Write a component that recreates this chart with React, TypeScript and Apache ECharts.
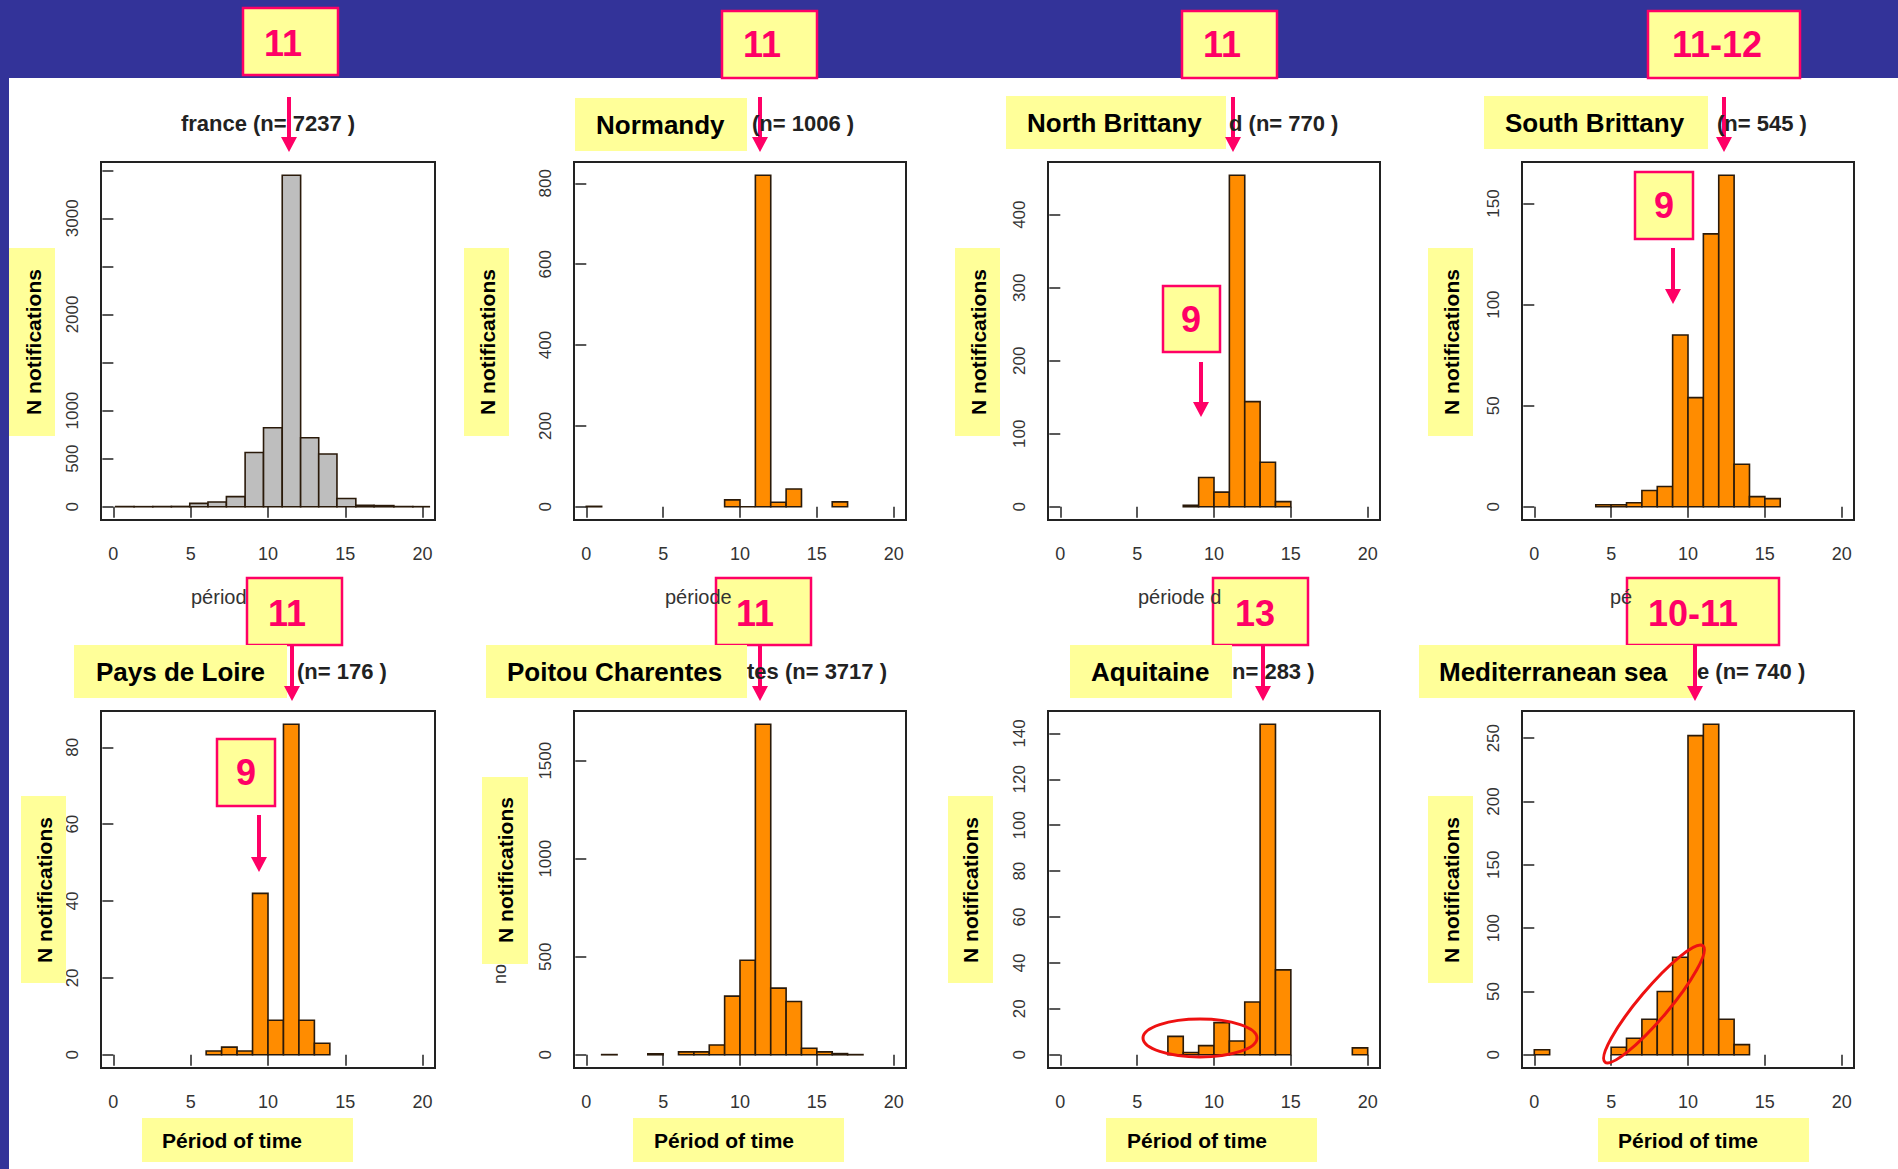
import React, { useEffect, useRef } from 'react';
import * as echarts from 'echarts';

const FONT = "'Liberation Sans', Arial, Helvetica, sans-serif";

// ---------- data ----------
const xTicks = [0, 5, 10, 15, 20];

// France (grey histogram, wider bins)
const franceLo = [0.15, 1.34, 2.55, 3.75, 4.94, 6.12, 7.31, 8.52, 9.71, 10.92, 12.11, 13.28, 14.46, 15.68, 16.86, 18.14, 19.37];
const franceHi = [1.34, 2.55, 3.75, 4.94, 6.12, 7.31, 8.52, 9.71, 10.92, 12.11, 13.28, 14.46, 15.68, 16.86, 18.14, 19.37, 20.43];
const franceCounts = [2, 1, 2, 3, 35, 50, 105, 564, 822, 3448, 718, 548, 85, 15, 12, 2, 1];
const franceYTicks = [0, 500, 1000, 1500, 2000, 2500, 3000, 3500];
const franceYLabels = [0, 500, 1000, 2000, 3000];

const normandyLo = [0, 9, 10, 11, 12, 13, 16];
const normandyCounts = [1, 17, 0, 820, 11, 44, 12];
const normandyYTicks = [0, 200, 400, 600, 800];

const northBrittanyLo = [8, 9, 10, 11, 12, 13, 14];
const northBrittanyCounts = [2, 40, 20, 454, 144, 61, 7];
const northBrittanyYTicks = [0, 100, 200, 300, 400];

const southBrittanyLo = [4, 5, 6, 7, 8, 9, 10, 11, 12, 13, 14, 15];
const southBrittanyCounts = [1, 1, 2, 8, 10, 85, 54, 135, 164, 21, 5, 4];
const southBrittanyYTicks = [0, 50, 100, 150];

const paysDeLoireLo = [6, 7, 8, 9, 10, 11, 12, 13];
const paysDeLoireCounts = [1, 2, 1, 42, 9, 86, 9, 3];
const paysDeLoireYTicks = [0, 20, 40, 60, 80];

const poitouLo = [1, 4, 6, 7, 8, 9, 10, 11, 12, 13, 14, 15, 16, 17];
const poitouCounts = [1, 5, 15, 15, 50, 299, 482, 1686, 340, 272, 33, 15, 6, 1];
const poitouYTicks = [0, 500, 1000, 1500];

const aquitaineLo = [7, 8, 9, 10, 11, 12, 13, 14, 19];
const aquitaineCounts = [8, 1, 4, 14, 6, 23, 144, 37, 3];
const aquitaineYTicks = [0, 20, 40, 60, 80, 100, 120, 140];

const mediterraneanLo = [0, 5, 6, 7, 8, 9, 10, 11, 12, 13];
const mediterraneanCounts = [4, 6, 13, 28, 50, 77, 252, 261, 28, 8];
const mediterraneanYTicks = [0, 50, 100, 150, 200, 250];

const topPeriods = ['11', '11', '11', '11-12'];
const bottomPeriods = ['11', '11', '13', '10-11'];
const regionNames = ['Normandy', 'North Brittany', 'South Brittany', 'Pays de Loire', 'Poitou Charentes', 'Aquitaine', 'Mediterranean sea'];
const titleFragments = ['france (n= 7237 )', '(n= 1006 )', 'd (n= 770 )', '(n= 545 )', '(n= 176 )', 'tes (n= 3717 )', 'n= 283 )', 'e (n= 740 )'];

// ---------- layout ----------
const ORANGE = '#FF8C00';
const GREY = '#BEBEBE';
const YELLOW = '#FFFF99';
const PINK = '#FF0066';
const BLUE = '#333399';

const colLeft = [101, 574, 1048, 1522];
const colWidth = [334, 332, 332, 332];
const rowTop = [162, 711];
const rowHeight = [358, 357];

type Panel = { lo: number[]; hi?: number[]; counts: number[]; yTicks: number[]; yLabels?: number[]; fill: string };
const panels: Panel[] = [
  { lo: franceLo, hi: franceHi, counts: franceCounts, yTicks: franceYTicks, yLabels: franceYLabels, fill: GREY },
  { lo: normandyLo, counts: normandyCounts, yTicks: normandyYTicks, fill: ORANGE },
  { lo: northBrittanyLo, counts: northBrittanyCounts, yTicks: northBrittanyYTicks, fill: ORANGE },
  { lo: southBrittanyLo, counts: southBrittanyCounts, yTicks: southBrittanyYTicks, fill: ORANGE },
  { lo: paysDeLoireLo, counts: paysDeLoireCounts, yTicks: paysDeLoireYTicks, fill: ORANGE },
  { lo: poitouLo, counts: poitouCounts, yTicks: poitouYTicks, fill: ORANGE },
  { lo: aquitaineLo, counts: aquitaineCounts, yTicks: aquitaineYTicks, fill: ORANGE },
  { lo: mediterraneanLo, counts: mediterraneanCounts, yTicks: mediterraneanYTicks, fill: ORANGE },
];

function buildOption() {
  const grid: any[] = [];
  const xAxis: any[] = [];
  const yAxis: any[] = [];
  const series: any[] = [];

  panels.forEach((p, i) => {
    const col = i % 4;
    const row = Math.floor(i / 4);
    const maxC = Math.max(...p.counts);
    grid.push({
      left: colLeft[col], top: rowTop[row], width: colWidth[col], height: rowHeight[row],
      show: true, borderColor: '#222', borderWidth: 2, backgroundColor: 'transparent',
    });
    xAxis.push({
      type: 'value', gridIndex: i, min: -0.8, max: 20.8,
      axisLine: { show: false }, splitLine: { show: false },
      axisTick: { show: true, inside: false, length: 11, customValues: xTicks, lineStyle: { color: '#222', width: 1.5 } },
      axisLabel: { show: true, customValues: xTicks, margin: 25, fontSize: 18, color: '#333', fontFamily: FONT, formatter: (v: number) => String(v) },
    });
    yAxis.push({
      type: 'value', gridIndex: i, min: -0.04 * maxC, max: 1.04 * maxC,
      axisLine: { show: false }, splitLine: { show: false },
      axisTick: { show: true, inside: false, length: 11, customValues: p.yTicks, lineStyle: { color: '#222', width: 1.5 } },
      axisLabel: { show: true, customValues: p.yLabels || p.yTicks, rotate: 90, margin: 20, fontSize: 17, color: '#333', fontFamily: FONT, formatter: (v: number) => String(v) },
    });
    const data = p.lo.map((l, k) => [l, p.hi ? p.hi[k] : l + 1, p.counts[k]]);
    const fill = p.fill;
    series.push({
      type: 'custom', xAxisIndex: i, yAxisIndex: i, data, clip: false,
      encode: { x: [0, 1], y: 2 },
      renderItem: (params: any, api: any) => {
        const a = api.coord([api.value(0), api.value(2)]);
        const b = api.coord([api.value(1), 0]);
        return {
          type: 'rect',
          shape: { x: a[0], y: a[1], width: b[0] - a[0], height: b[1] - a[1] },
          style: { fill, stroke: '#2a1a0a', lineWidth: 1.6 },
        };
      },
    });
  });

  const g: any[] = [];
  const txt = (text: string, x: number, y: number, size: number, opts: any = {}) => {
    const align = opts.align || 'center';
    g.push({
      type: 'text', x, y, z: 110, rotation: opts.rotation || 0,
      style: {
        text, fill: opts.color || '#000', fontSize: size, fontWeight: opts.weight || 'bold', fontFamily: FONT,
        align, verticalAlign: 'middle', textAlign: align, textVerticalAlign: 'middle',
      },
    });
  };
  const yellow = (x: number, y: number, w: number, h: number) =>
    g.push({ type: 'rect', z: 100, shape: { x, y, width: w, height: h }, style: { fill: YELLOW } });
  const redBox = (x: number, y: number, w: number, h: number) =>
    g.push({ type: 'rect', z: 100, shape: { x, y, width: w, height: h }, style: { fill: YELLOW, stroke: PINK, lineWidth: 2.5 } });
  const arrow = (x: number, y1: number, y2: number) => {
    g.push({ type: 'line', z: 105, shape: { x1: x, y1, x2: x, y2: y2 - 10 }, style: { stroke: PINK, lineWidth: 4 } });
    g.push({ type: 'polygon', z: 105, shape: { points: [[x - 8, y2 - 15], [x + 8, y2 - 15], [x, y2]] }, style: { fill: PINK } });
  };

  // background blue band and left stripe
  g.push({ type: 'rect', z: 1, shape: { x: 0, y: 0, width: 1898, height: 78 }, style: { fill: BLUE } });
  g.push({ type: 'rect', z: 1, shape: { x: 0, y: 0, width: 9, height: 1169 }, style: { fill: BLUE } });

  // original chart titles (visible fragments)
  const tcol = '#222';
  txt(titleFragments[0], 268, 123, 22, { color: tcol });
  txt(titleFragments[1], 752, 123, 22, { color: tcol, align: 'left' });
  txt(titleFragments[2], 1229, 123, 22, { color: tcol, align: 'left' });
  txt(titleFragments[3], 1717, 123, 22, { color: tcol, align: 'left' });
  txt(titleFragments[4], 297, 671, 22, { color: tcol, align: 'left' });
  txt(titleFragments[5], 747, 671, 22, { color: tcol, align: 'left' });
  txt(titleFragments[6], 1232, 671, 22, { color: tcol, align: 'left' });
  txt(titleFragments[7], 1697, 671, 22, { color: tcol, align: 'left' });

  // original x-axis titles (fragments)
  txt('périod', 191, 597, 20, { color: '#333', weight: 'normal', align: 'left' });
  txt('période', 665, 597, 20, { color: '#333', weight: 'normal', align: 'left' });
  txt('période d', 1138, 597, 20, { color: '#333', weight: 'normal', align: 'left' });
  txt('pé', 1610, 597, 20, { color: '#333', weight: 'normal', align: 'left' });
  txt('no', 500, 974, 18, { color: '#333', weight: 'normal', rotation: Math.PI / 2 });

  // period boxes top
  const topBoxes = [[243, 8, 95, 67, 283, 43], [722, 11, 95, 67, 762, 44], [1182, 11, 95, 67, 1222, 44], [1648, 11, 152, 67, 1717, 44]];
  topBoxes.forEach((b, k) => { redBox(b[0], b[1], b[2], b[3]); txt(topPeriods[k], b[4], b[5], 36, { color: PINK }); });
  const bottomBoxes = [[247, 578, 95, 67, 287, 613], [716, 578, 95, 67, 755, 613], [1213, 578, 95, 67, 1255, 613], [1627, 578, 152, 67, 1693, 613]];
  bottomBoxes.forEach((b, k) => { redBox(b[0], b[1], b[2], b[3]); txt(bottomPeriods[k], b[4], b[5], 36, { color: PINK }); });
  // "9" boxes
  const nineBoxes = [[1163, 286, 57, 66, 1191, 319], [1635, 172, 58, 67, 1664, 205], [217, 739, 58, 67, 246, 772]];
  nineBoxes.forEach((b) => { redBox(b[0], b[1], b[2], b[3]); txt('9', b[4], b[5], 36, { color: PINK }); });

  // arrows
  [289, 760, 1233, 1724].forEach((x) => arrow(x, 97, 152));
  [292, 760, 1263, 1695].forEach((x) => arrow(x, 645, 701));
  arrow(1201, 362, 417);
  arrow(1673, 248, 304);
  arrow(259, 815, 872);

  // region name boxes
  const nameBoxes = [[575, 98, 172, 53, 596, 125], [1006, 96, 220, 53, 1027, 123], [1484, 96, 224, 53, 1505, 123],
    [74, 645, 213, 53, 96, 672], [486, 645, 261, 53, 507, 672], [1070, 645, 162, 53, 1091, 672], [1419, 645, 274, 53, 1439, 672]];
  nameBoxes.forEach((b, k) => { yellow(b[0], b[1], b[2], b[3]); txt(regionNames[k], b[4], b[5], 26, { align: 'left' }); });

  // y-axis title boxes
  const yBoxes = [[9, 248, 46, 188, 33, 342], [464, 248, 45, 188, 487, 342], [955, 248, 45, 188, 978, 342], [1428, 248, 45, 188, 1451, 342],
    [21, 796, 45, 187, 44, 890], [482, 777, 46, 187, 505, 870], [948, 796, 45, 187, 970, 890], [1428, 796, 45, 187, 1451, 890]];
  yBoxes.forEach((b) => { yellow(b[0], b[1], b[2], b[3]); txt('N notifications', b[4], b[5], 21, { rotation: Math.PI / 2 }); });

  // x-axis title boxes
  const xBoxes = [[142, 1118, 211, 44, 162, 1140], [633, 1118, 211, 44, 654, 1140], [1106, 1118, 211, 44, 1127, 1140], [1598, 1118, 211, 44, 1618, 1140]];
  xBoxes.forEach((b) => { yellow(b[0], b[1], b[2], b[3]); txt('Périod of time', b[4], b[5], 21, { align: 'left' }); });

  // red ellipses
  g.push({ type: 'ellipse', z: 108, x: 1200, y: 1038, shape: { cx: 0, cy: 0, rx: 57, ry: 19 }, style: { fill: 'none', stroke: '#EE1111', lineWidth: 3 } });
  g.push({ type: 'ellipse', z: 108, x: 1654, y: 1004, rotation: 0.87, shape: { cx: 0, cy: 0, rx: 76, ry: 15 }, style: { fill: 'none', stroke: '#EE1111', lineWidth: 3 } });

  return {
    animation: false,
    backgroundColor: '#ffffff',
    grid, xAxis, yAxis, series,
    graphic: { elements: g },
  };
}

export default function App() {
  const ref = useRef<HTMLDivElement>(null);
  useEffect(() => {
    document.body.style.margin = '0';
    const chart = echarts.init(ref.current!, null, { renderer: 'svg' });
    chart.setOption(buildOption() as any);
    return () => chart.dispose();
  }, []);
  return <div ref={ref} style={{ width: 1898, height: 1169 }} />;
}
